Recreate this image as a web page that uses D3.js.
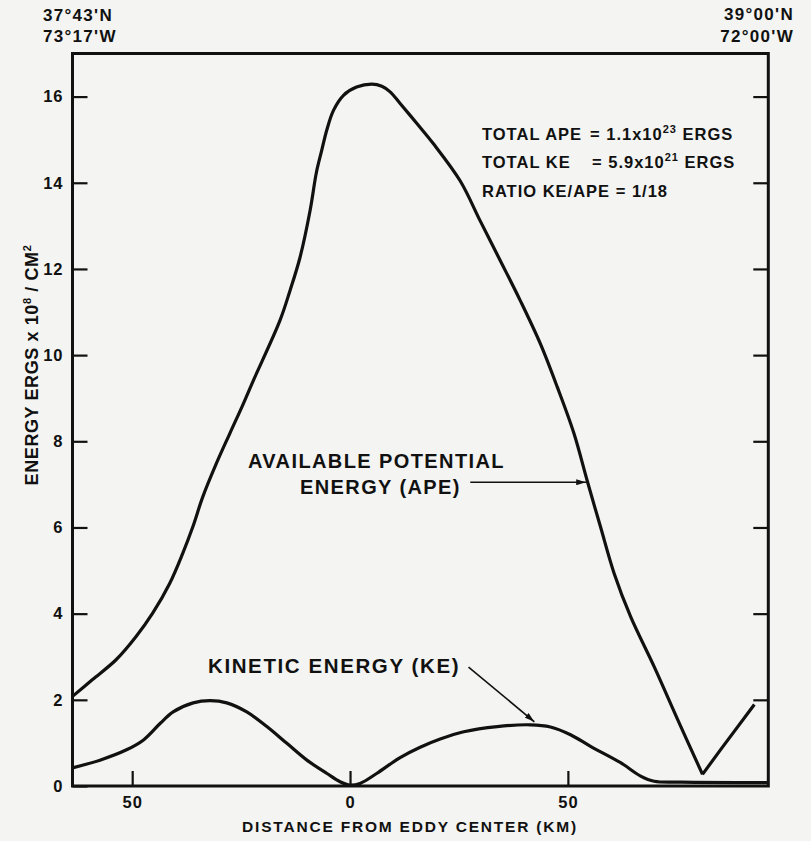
<!DOCTYPE html>
<html>
<head>
<meta charset="utf-8">
<script src="https://cdn.jsdelivr.net/npm/d3@7"></script>
<style>
  body { margin: 0; background: #f4f4f2; }
  text { font-family: 'Liberation Sans', Arial, sans-serif; font-weight: bold; fill: #111; }
</style>
</head>
<body>
<script>
// distancia desde el centro del remolino (km), energia en ergs x 10^8 / cm^2
const apeKm = [-63.7, -59.1, -53.7, -49.1, -45.3, -41.4, -38.4, -36.1, -33.8, -30.7, -27.6, -24.5, -22.2,
  -16.1, -13.8, -11.5, -9.2, -7.7, -6.5, -5.35, -3.8, -1.5, 1.5, 5.0, 7.3, 9.2, 11.5, 15.3, 19.1, 25.3,
  29.9, 34.5, 39.1, 43.7, 47.6, 51.4, 54.5, 57.5, 60.6, 64.4, 69.8, 75.2, 80.9, 85.1, 92.8];
const apeVal = [2.08, 2.47, 2.93, 3.47, 4.01, 4.70, 5.40, 6.01, 6.71, 7.48, 8.18, 8.87, 9.41,
  10.80, 11.49, 12.26, 13.34, 14.25, 14.75, 15.22, 15.68, 16.03, 16.22, 16.29, 16.24, 16.11, 15.84, 15.38, 14.91, 14.04,
  13.11, 12.19, 11.26, 10.26, 9.25, 8.18, 7.06, 6.01, 4.94, 3.93, 2.77, 1.54, 0.27, 0.85, 1.89];

const keKm = [-63.7, -57.4, -51.3, -47.4, -43.6, -40.6, -36.0, -32.1, -28.3, -23.7, -19.1, -14.5, -9.9, -5.3,
  -2.3, 0, 2.3, 6.1, 11.5, 16.1, 20.7, 26.1, 33.8, 41.4, 46.0, 50.6, 55.2, 62.1, 66.7, 69.8, 76.0, 96.0];
const keVal = [0.42, 0.60, 0.84, 1.07, 1.45, 1.72, 1.93, 1.98, 1.93, 1.72, 1.38, 0.99, 0.60, 0.29,
  0.10, 0.02, 0.06, 0.29, 0.66, 0.90, 1.09, 1.26, 1.38, 1.42, 1.37, 1.19, 0.92, 0.54, 0.23, 0.11, 0.09, 0.08];

const xTicks = [-50, 0, 50];
const yTicks = [0, 2, 4, 6, 8, 10, 12, 14, 16];
const xDomain = [-63.7, 96.0];
const yDomain = [0, 17];

const width = 811;
const height = 841;
const margin = { top: 53.5, right: 42.7, bottom: 55, left: 72.5 };

const svg = d3.select('body')
  .append('svg')
  .attr('width', width)
  .attr('height', height);

svg.append('rect')
  .attr('width', width)
  .attr('height', height)
  .attr('fill', '#f4f4f2');

const escalaX = d3.scaleLinear()
  .domain(xDomain)
  .range([margin.left, width - margin.right]);

const escalaY = d3.scaleLinear()
  .domain(yDomain)
  .range([height - margin.bottom, margin.top]);

const y0 = escalaY(0);

// ejes con marcas hacia adentro
const ejeY = svg.append('g')
  .attr('transform', `translate(${margin.left}, 0)`)
  .call(d3.axisLeft(escalaY).tickValues(yTicks).tickSize(-15).tickPadding(9));

const ejeYDer = svg.append('g')
  .attr('transform', `translate(${width - margin.right}, 0)`)
  .call(d3.axisRight(escalaY).tickValues(yTicks.slice(1)).tickSize(-15).tickFormat(''));

const ejeX = svg.append('g')
  .attr('transform', `translate(0, ${y0})`)
  .call(d3.axisBottom(escalaX).tickValues(xTicks).tickSize(-15).tickPadding(10)
    .tickFormat((d) => Math.abs(d)));

[ejeY, ejeYDer, ejeX].forEach((g) => {
  g.select('.domain').remove();
  g.selectAll('line').attr('stroke', '#111').attr('stroke-width', 2.2);
  g.selectAll('text')
    .attr('font-size', 16.5)
    .attr('letter-spacing', 1)
    .attr('font-family', 'Liberation Sans, Arial, sans-serif')
    .attr('font-weight', 'bold')
    .attr('fill', '#111');
});

// marco
svg.append('rect')
  .attr('x', escalaX(xDomain[0]))
  .attr('y', escalaY(yDomain[1]))
  .attr('width', escalaX(xDomain[1]) - escalaX(xDomain[0]))
  .attr('height', escalaY(yDomain[0]) - escalaY(yDomain[1]))
  .attr('fill', 'none')
  .attr('stroke', '#111')
  .attr('stroke-width', 3);

// curvas
const ape = apeKm.map((x, i) => ({ x: x, y: apeVal[i] }));
const ke = keKm.map((x, i) => ({ x: x, y: keVal[i] }));
const iMin = d3.minIndex(apeVal);

const linea = d3.line()
  .x((d) => escalaX(d.x))
  .y((d) => escalaY(d.y))
  .curve(d3.curveCatmullRom.alpha(0.5));

const lineaRecta = d3.line()
  .x((d) => escalaX(d.x))
  .y((d) => escalaY(d.y));

svg.append('path')
  .attr('d', linea(ape.slice(0, iMin + 1)))
  .attr('fill', 'none')
  .attr('stroke', '#111')
  .attr('stroke-width', 3.2)
  .attr('stroke-linejoin', 'round');

svg.append('path')
  .attr('d', lineaRecta(ape.slice(iMin)))
  .attr('fill', 'none')
  .attr('stroke', '#111')
  .attr('stroke-width', 3.2)
  .attr('stroke-linejoin', 'round');

svg.append('path')
  .attr('d', linea(ke))
  .attr('fill', 'none')
  .attr('stroke', '#111')
  .attr('stroke-width', 3.2)
  .attr('stroke-linejoin', 'round');

// flechas
svg.append('defs')
  .append('marker')
  .attr('id', 'punta')
  .attr('viewBox', '0 0 10 6')
  .attr('refX', 10)
  .attr('refY', 3)
  .attr('markerWidth', 10)
  .attr('markerHeight', 6)
  .attr('markerUnits', 'userSpaceOnUse')
  .attr('orient', 'auto')
  .append('path')
  .attr('d', 'M0,0 L10,3 L0,6 Z')
  .attr('fill', '#111');

svg.append('line')
  .attr('x1', escalaX(27.6))
  .attr('y1', escalaY(7.05))
  .attr('x2', escalaX(54.2))
  .attr('y2', escalaY(7.05))
  .attr('stroke', '#111')
  .attr('stroke-width', 1.6)
  .attr('marker-end', 'url(#punta)');

svg.append('line')
  .attr('x1', escalaX(27.2))
  .attr('y1', escalaY(2.76))
  .attr('x2', escalaX(42.3))
  .attr('y2', escalaY(1.49))
  .attr('stroke', '#111')
  .attr('stroke-width', 1.6)
  .attr('marker-end', 'url(#punta)');

// etiquetas de curvas
svg.append('text')
  .attr('x', 248)
  .attr('y', 468)
  .attr('font-size', 20)
  .attr('letter-spacing', 1.4)
  .text('AVAILABLE POTENTIAL');

svg.append('text')
  .attr('x', 300)
  .attr('y', 494)
  .attr('font-size', 20)
  .attr('letter-spacing', 1.4)
  .text('ENERGY (APE)');

svg.append('text')
  .attr('x', 208)
  .attr('y', 673)
  .attr('font-size', 20.5)
  .attr('letter-spacing', 1.6)
  .text('KINETIC ENERGY (KE)');

// totales
const totales = svg.append('g')
  .attr('font-size', 16.5)
  .attr('letter-spacing', 1);

const t1 = totales.append('text').attr('x', 482).attr('y', 140);
t1.append('tspan').text('TOTAL APE');
t1.append('tspan').attr('x', 590).text('= 1.1x10');
t1.append('tspan').attr('dy', -7).attr('font-size', 11).text('23');
t1.append('tspan').attr('dy', 7).text(' ERGS');

const t2 = totales.append('text').attr('x', 482).attr('y', 168);
t2.append('tspan').text('TOTAL KE');
t2.append('tspan').attr('x', 592).text('= 5.9x10');
t2.append('tspan').attr('dy', -7).attr('font-size', 11).text('21');
t2.append('tspan').attr('dy', 7).text(' ERGS');

totales.append('text')
  .attr('x', 482)
  .attr('y', 196.5)
  .text('RATIO KE/APE = 1/18');

// coordenadas en las esquinas
svg.append('text').attr('x', 43).attr('y', 20.5).attr('font-size', 17).attr('letter-spacing', 1.3).text('37°43\'N');
svg.append('text').attr('x', 43).attr('y', 42.3).attr('font-size', 17).attr('letter-spacing', 1.3).text('73°17\'W');
svg.append('text').attr('x', 794).attr('y', 20).attr('font-size', 17).attr('letter-spacing', 1.3)
  .attr('text-anchor', 'end').text('39°00\'N');
svg.append('text').attr('x', 794).attr('y', 42).attr('font-size', 17).attr('letter-spacing', 1.3)
  .attr('text-anchor', 'end').text('72°00\'W');

// titulos de ejes
svg.append('text')
  .attr('x', 410)
  .attr('y', 831.7)
  .attr('font-size', 15.5)
  .attr('letter-spacing', 1.8)
  .style('text-anchor', 'middle')
  .text('DISTANCE FROM EDDY CENTER (KM)');

const yTitle = svg.append('text')
  .attr('transform', 'rotate(-90)')
  .attr('x', -365)
  .attr('y', 37.5)
  .attr('font-size', 18)
  .attr('letter-spacing', 0.6)
  .style('text-anchor', 'middle');

yTitle.append('tspan').text('ENERGY ERGS x 10');
yTitle.append('tspan').attr('dy', -7).attr('font-size', 11).text('8');
yTitle.append('tspan').attr('dy', 7).text(' / CM');
yTitle.append('tspan').attr('dy', -7).attr('font-size', 11).text('2');
</script>
</body>
</html>
